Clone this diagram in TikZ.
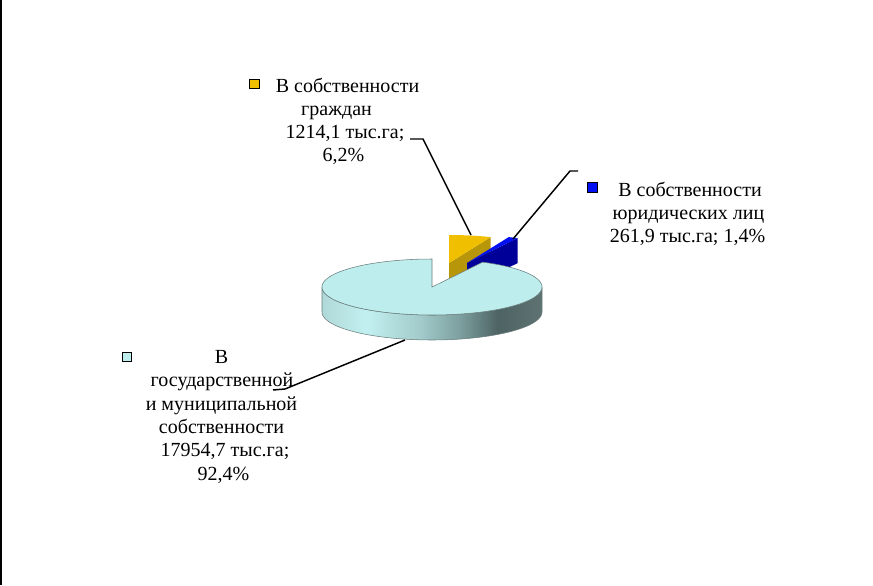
\documentclass[tikz,border=0pt]{standalone}
\usepackage{fontspec}
\setmainfont{Liberation Serif}
\definecolor{pietop}{HTML}{BDEDED}
\definecolor{pieline}{HTML}{6A7C7C}
\definecolor{yeltop}{HTML}{F0C000}
\definecolor{yelside}{HTML}{B8960A}
\definecolor{blutop}{HTML}{0010F0}
\definecolor{bluside}{HTML}{000099}
\definecolor{sa}{HTML}{B0D8D8}
\definecolor{sb}{HTML}{C2F0F0}
\definecolor{sc}{HTML}{A2CACA}
\definecolor{sd}{HTML}{7C9E9E}
\definecolor{se}{HTML}{4E6363}
\definecolor{sf}{HTML}{5E7272}
\pgfdeclarehorizontalshading{pieside}{100bp}{color(0bp)=(sa); color(25bp)=(sa); color(35bp)=(sb); color(47.5bp)=(sc); color(56.5bp)=(sd); color(65bp)=(se); color(75bp)=(sf); color(100bp)=(sf)}
\tikzset{
  lbl/.style={font=\fontsize{15}{18}\selectfont, inner sep=0pt, anchor=base},
  key/.style={draw=black, line width=0.8pt, minimum size=7.2pt, inner sep=0pt},
  leader/.style={draw=black, line width=1.1pt},
  pieedge/.style={draw=pieline, line width=0.4pt},
}
\begin{document}
\begin{tikzpicture}[x=0.75pt, y=-0.75pt]
\useasboundingbox (0,0) rectangle (873,585);
% left frame line
\draw[line width=0.9pt] (1,0) -- (1,585);

% yellow slice (exploded)
\coordinate (yc) at (449,263);
\fill[yelside] (yc) -- ++(41.7,-25.9) -- ++(0,25) -- ++(-41.7,25.9) -- cycle;
\fill[yeltop] (yc) -- plot[domain=67.7:90, samples=12] ({449+110*cos(\x)},{263-28*sin(\x)}) -- cycle;

% blue slice (exploded)
\coordinate (bc) at (467,263);
\fill[bluside] (bc) -- ++(50.6,-24.9) -- ++(0,25) -- ++(-50.6,24.9) -- cycle;
\fill[blutop] (bc) -- plot[domain=62.6:67.7, samples=6] ({467+110*cos(\x)},{263-28*sin(\x)}) -- cycle;

% big slice: side
\coordinate (pc) at (432,287);
\path[shading=pieside, pieedge]
  plot[domain=180:360, samples=60] ({432+110*cos(\x)},{287-28*sin(\x)})
  -- plot[domain=360:180, samples=60] ({432+110*cos(\x)},{312-28*sin(\x)}) -- cycle;
% big slice: top
\filldraw[fill=pietop, pieedge] (pc) -- plot[domain=90:422.6, samples=120] ({432+110*cos(\x)},{287-28*sin(\x)}) -- cycle;

% label: citizens
\node[key, fill=yeltop] (k1) at (254.5,84) {};
\node[lbl] (a1) at (347.5,92) {В собственности};
\node[lbl] (a2) at (336.5,115) {граждан};
\node[lbl] (a3) at (345,138) {1214,1 тыс.га;};
\node[lbl] (a4) at (343.5,161.5) {6,2\%};

% label: legal entities
\node[key, fill=blutop] (k2) at (592.5,187.5) {};
\node[lbl] (b1) at (690,196) {В собственности};
\node[lbl] (b2) at (688.5,219) {юридических лиц};
\node[lbl] (b3) at (687.5,242) {261,9 тыс.га; 1,4\%};

% label: state and municipal
\node[key, fill=pietop] (k3) at (127,357) {};
\node[lbl] (c1) at (221.5,363) {В};
\node[lbl] (c2) at (222,386.5) {государственной};
\node[lbl] (c3) at (221.5,410) {и муниципальной};
\node[lbl] (c4) at (221.5,433) {собственности};
\node[lbl] (c5) at (225,456.5) {17954,7 тыс.га;};
\node[lbl] (c6) at (223.5,480) {92,4\%};

% leader lines
\coordinate (ya) at (410,139);
\coordinate (yb) at (423,139);
\coordinate (yt) at (471,235);
\draw[leader] (ya) -- (yb) -- (yt);
\coordinate (ba) at (578,171);
\coordinate (bb) at (570,171);
\coordinate (bt) at (513,239);
\draw[leader] (ba) -- (bb) -- (bt);
\coordinate (ca) at (273,390);
\coordinate (cb) at (285,389);
\coordinate (ct) at (405,340);
\draw[leader] (ca) -- (cb) -- (ct);
\end{tikzpicture}
\end{document}
